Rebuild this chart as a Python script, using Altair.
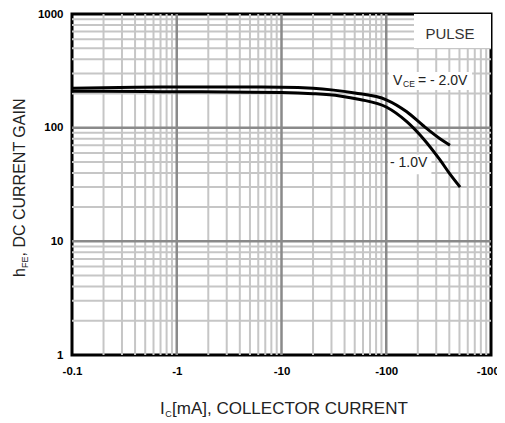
import altair as alt
import pandas as pd

# ---- data ----
ic_2v = [0.1, 0.4, 1, 3, 10, 20, 30, 50, 100, 157, 226, 326, 406]
hfe_2v = [222, 227, 228, 228, 227, 222, 215, 202, 176, 138, 104, 80, 70]
ic_1v = [0.1, 0.5, 1, 3, 10, 20, 36, 56, 100, 157, 226, 326, 406, 507]
hfe_1v = [209, 208, 207, 206, 204, 199, 190, 177, 152, 113, 80, 52, 39, 30]

x_ticks = [0.1, 1, 10, 100, 1000]
y_ticks = [1, 10, 100, 1000]
x_major = [1, 10, 100]
y_major = [10, 100]
mult = [2, 3, 4, 5, 6, 7, 8, 9]
x_minor = [d * k for d in [0.1, 1, 10, 100] for k in mult]
y_minor = [d * k for d in [1, 10, 100] for k in mult]

FONT = "Liberation Sans"
W, H = 419, 341

xs = alt.Scale(type="log", domain=[0.1, 1000])
ys = alt.Scale(type="log", domain=[1, 1000])

x_axis = alt.Axis(
    values=x_ticks, labelExpr="'-' + format(datum.value, '~g')", title=None,
    grid=False, ticks=False, tickSize=0, domain=False, labelFont=FONT,
    labelFontWeight="bold", labelFontSize=11.5, labelColor="black",
    labelPadding=10, labelFlush=False, labelOverlap=False)
y_axis = alt.Axis(
    values=y_ticks, format="~g", title=None, grid=False, ticks=False, tickSize=0,
    domain=False, labelFont=FONT, labelFontWeight="bold", labelFontSize=11.5,
    labelColor="black", labelPadding=9, labelFlush=False, labelOverlap=False)


def X(field):
    return alt.X(field, scale=xs, axis=x_axis)


def Y(field):
    return alt.Y(field, scale=ys, axis=y_axis)


curves = pd.DataFrame({
    "x": ic_2v + ic_1v,
    "y": hfe_2v + hfe_1v,
    "vce": ["-2.0V"] * len(ic_2v) + ["-1.0V"] * len(ic_1v),
})

xminor = alt.Chart(pd.DataFrame({"x": x_minor})).mark_rule(color="#c6c6c6", strokeWidth=2).encode(x=X("x:Q"))
yminor = alt.Chart(pd.DataFrame({"y": y_minor})).mark_rule(color="#c6c6c6", strokeWidth=2).encode(y=Y("y:Q"))
xmajor = alt.Chart(pd.DataFrame({"x": x_major})).mark_rule(color="#8a8a8a", strokeWidth=2.5).encode(x=X("x:Q"))
ymajor = alt.Chart(pd.DataFrame({"y": y_major})).mark_rule(color="#8a8a8a", strokeWidth=2.5).encode(y=Y("y:Q"))

boxes = pd.DataFrame({
    "x": [184, 106, 104], "x2": [1000, 660, 270],
    "y": [502, 214, 39], "y2": [1000, 309, 58],
})
box_layer = alt.Chart(boxes).mark_rect(color="white").encode(
    x=X("x:Q"), x2="x2:Q", y=Y("y:Q"), y2="y2:Q")

line_layer = alt.Chart(curves).mark_line(color="black", strokeWidth=3, interpolate="monotone").encode(
    x=X("x:Q"), y=Y("y:Q"), detail="vce:N")


def anno(x, y, text, size, dx=0, dy=0, align="left", color="#222"):
    return alt.Chart(pd.DataFrame({"x": [x], "y": [y], "t": [text]})).mark_text(
        font=FONT, fontSize=size, align=align, baseline="middle", dx=dx, dy=dy, color=color
    ).encode(x=X("x:Q"), y=Y("y:Q"), text="t:N")


pulse = anno(406, 667, "PULSE", 15, align="center", color="#333")
v_main = anno(116, 257, "V", 14)
v_sub = anno(116, 257, "CE", 8.5, dx=10, dy=3)
v_rest = anno(116, 257, "= - 2.0V", 14, dx=25)
v1 = anno(108.6, 48.9, "- 1.0V", 14)

one = pd.DataFrame({"a": [0]})


def ptext(px, py, text, size, angle=0):
    kw = dict(font=FONT, fontSize=size, align="left", baseline="alphabetic", color="#222")
    if angle:
        kw["angle"] = angle
    return alt.Chart(one).mark_text(**kw).encode(
        x=alt.value(px), y=alt.value(py), text=alt.value(text))


# titles (pixel positions relative to plot area)
xt1 = ptext(88, 400, "I", 17)
xt2 = ptext(93.2, 402.5, "C", 9)
xt3 = ptext(100, 400, "[mA], COLLECTOR CURRENT", 17)
yt1 = ptext(-47, 263, "h", 16, 270)
yt2 = ptext(-44, 254, "FE", 9, 270)
yt3 = ptext(-47, 242.5, ", DC CURRENT GAIN", 16, 270)

chart = alt.layer(
    xminor, yminor, xmajor, ymajor, box_layer, line_layer,
    pulse, v_main, v_sub, v_rest, v1, xt1, xt2, xt3, yt1, yt2, yt3
).properties(
    width=W, height=H,
    autosize=alt.AutoSizeParams(type="none"),
    padding={"left": 64, "top": 6, "right": 6, "bottom": 66},
).configure_view(stroke="black", strokeWidth=3)

chart.save("out.html", embed_options={"renderer": "svg", "actions": False})
